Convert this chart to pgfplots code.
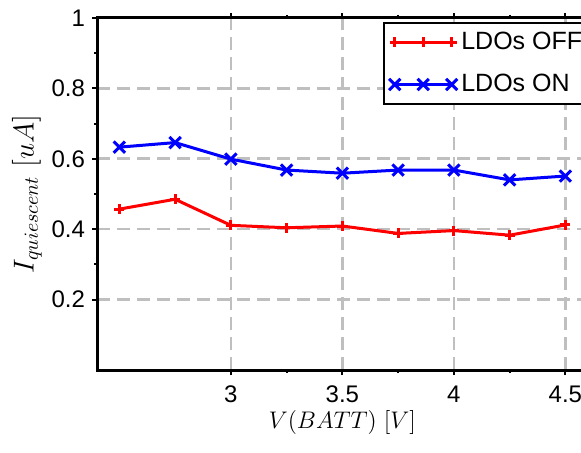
\documentclass[border=0pt]{standalone}
\usepackage{fontspec}
\setmainfont{Liberation Sans}
\usepackage{pgfplots}
\pgfplotsset{compat=1.18}
\begin{document}
\begin{tikzpicture}
\begin{axis}[
    scale only axis,
    width=245.3pt,
    height=176pt,
    xmin=2.4, xmax=4.6,
    ymin=0, ymax=1,
    xtick={3,3.5,4,4.5},
    ytick={0.2,0.4,0.6,0.8,1},
    minor x tick num=1,
    minor y tick num=1,
    tick align=outside,
    major tick length=2.5pt,
    minor tick length=1.5pt,
    tick style={black, line width=1pt},
    axis line style={black, line width=1.5pt},
    grid=major,
    major grid style={gray!50, line width=1.3pt, dash pattern=on 6.5pt off 3.5pt},
    ticklabel style={font=\fontsize{12}{14}\selectfont},
    /pgf/number format/assume math mode=true,
    xticklabel style={yshift=-2pt},
    xlabel={$V(BATT)\ [V]$},
    ylabel={$I_{quiescent}\ [uA]$},
    xlabel style={font=\fontsize{12.5}{14}\selectfont, yshift=3pt},
    ylabel style={font=\fontsize{14.5}{16}\selectfont, yshift=-2pt},
    legend style={at={(rel axis cs:0.583,0.989)}, anchor=north west,
        draw=black, line width=1pt, font=\fontsize{12.5}{14}\selectfont,
        inner sep=2.5pt, row sep=7pt, cells={anchor=west},
        /tikz/every even column/.append style={column sep=0pt}},
    legend image code/.code={%
        \draw[mark repeat=1,mark phase=1,#1] plot coordinates {(-0.1cm,0cm) (0.4cm,0cm) (0.9cm,0cm)};},
    clip=false,
]
\addplot[red, line width=1.5pt, mark=+, mark size=2.5pt, mark options={line width=1.5pt}] coordinates {
    (2.5,0.457) (2.75,0.485) (3.0,0.411) (3.25,0.404) (3.5,0.409)
    (3.75,0.388) (4.0,0.396) (4.25,0.383) (4.5,0.412)
};
\addlegendentry{LDOs OFF}
\addplot[blue, line width=1.5pt, mark=x, mark size=4pt, mark options={line width=1.5pt}] coordinates {
    (2.5,0.633) (2.75,0.646) (3.0,0.599) (3.25,0.568) (3.5,0.559)
    (3.75,0.568) (4.0,0.568) (4.25,0.540) (4.5,0.551)
};
\addlegendentry{LDOs ON}
\coordinate (bl) at (axis cs:1.965,-0.233);
\coordinate (tr) at (axis cs:4.570,1.051);
\end{axis}
\pgfresetboundingbox
\useasboundingbox (bl) rectangle (tr);
\end{tikzpicture}
\end{document}
